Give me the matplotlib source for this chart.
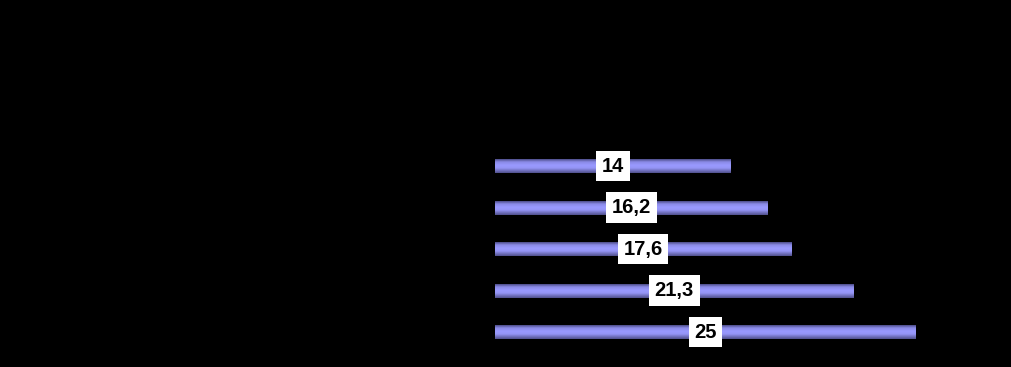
import numpy as np
import matplotlib
matplotlib.use("Agg")
from matplotlib import pyplot as plt
from matplotlib.colors import LinearSegmentedColormap

# values from the chart, top to bottom
values = [14, 16.2, 17.6, 21.3, 25]
labels = [f"{v:g}".replace(".", ",") for v in values]

plt.rcParams['font.family'] = ['Liberation Sans', 'DejaVu Sans']

fig = plt.figure(figsize=(10.11, 3.67), dpi=100, facecolor="black")
# axes placed so the bars sit where they do in the reference
ax = fig.add_axes([495 / 1011, 0.0388, 421 / 1011, 0.565])
ax.set_facecolor("black")
ax.set_xlim(0, 25)
ax.set_ylim(4.5, -0.5)
ax.axis("off")

# vertical shading: dark edges, light middle
shade = LinearSegmentedColormap.from_list(
    "shade", [(0.0, "#50508c"), (0.35, "#9494f4"), (0.55, "#9a9aff"),
              (0.8, "#8a8ae6"), (1.0, "#4c4c88")])
grad = np.linspace(0, 1, 64).reshape(-1, 1)

bar_h = 0.337
ypos = np.arange(len(values))
bars = ax.barh(ypos, values, height=bar_h, color="none", edgecolor="none")
for b in bars:
    x0, y0 = b.get_x(), b.get_y()
    im = ax.imshow(grad, cmap=shade, aspect="auto", interpolation="bilinear",
                   extent=[x0, x0 + b.get_width(), y0, y0 + b.get_height()],
                   zorder=2)
    im.set_clip_path(b)

ax.set_xlim(0, 25)
ax.set_ylim(4.5, -0.5)

for y, v, lab in zip(ypos, values, labels):
    ax.text(v / 2, y, lab, ha="center", va="center", fontsize=14.5,
            fontweight="bold", color="black", zorder=3,
            bbox=dict(boxstyle="square,pad=0.28", facecolor="white",
                      edgecolor="none"))

fig.savefig("out.png", dpi=100, facecolor="black")
